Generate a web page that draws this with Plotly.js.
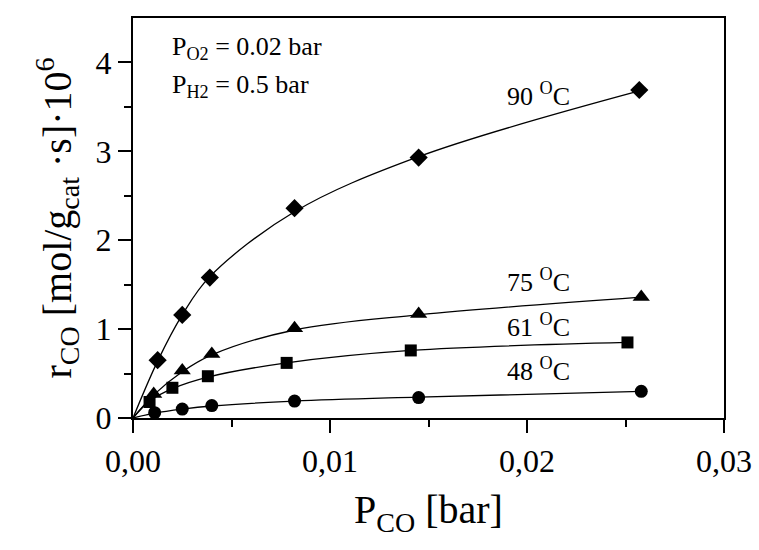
<!DOCTYPE html>
<html><head><meta charset="utf-8">
<script src="https://cdn.plot.ly/plotly-3.0.1.min.js"></script>
<style>html,body{margin:0;padding:0;background:#fff}#chart{width:759px;height:550px}</style>
</head><body><div id="chart"></div>
<script>
// measured points (P_CO in bar, rate ×10^6)
const x90 = [0.00125, 0.0025, 0.0039, 0.0082, 0.0145, 0.0257];
const y90 = [0.65, 1.16, 1.58, 2.36, 2.93, 3.69];
const x75 = [0.00105, 0.0025, 0.0040, 0.0082, 0.0145, 0.0258];
const y75 = [0.27, 0.535, 0.72, 1.01, 1.17, 1.36];
const x61 = [0.00084, 0.0020, 0.0038, 0.0078, 0.0141, 0.0251];
const y61 = [0.18, 0.34, 0.47, 0.62, 0.76, 0.85];
const x48 = [0.0011, 0.0025, 0.0040, 0.0082, 0.0145, 0.0258];
const y48 = [0.06, 0.10, 0.14, 0.19, 0.23, 0.30];
// fitted curves (start at origin)
const fx90 = [0, 0.00125, 0.0025, 0.0039, 0.0082, 0.0145, 0.0257];
const fy90 = [0, 0.64, 1.16, 1.59, 2.32, 2.94, 3.68];
const fx75 = [0, 0.00105, 0.0025, 0.0040, 0.0082, 0.0145, 0.0258];
const fy75 = [0, 0.26, 0.52, 0.71, 0.99, 1.16, 1.36];
const fx61 = [0, 0.00084, 0.0020, 0.0038, 0.0078, 0.0141, 0.0251];
const fy61 = [0, 0.19, 0.33, 0.46, 0.62, 0.76, 0.85];
const fx48 = [0, 0.0011, 0.0025, 0.0040, 0.0082, 0.0145, 0.0258];
const fy48 = [0, 0.055, 0.10, 0.135, 0.19, 0.235, 0.30];
const xTicks = [0, 0.01, 0.02, 0.03];
const xTickText = ['0,00', '0,01', '0,02', '0,03'];
const yTicks = [0, 1, 2, 3, 4];
const labels = ['90 <sup>O</sup>C', '75 <sup>O</sup>C', '61 <sup>O</sup>C', '48 <sup>O</sup>C'];
const labelY = [3.64, 1.55, 1.04, 0.55];
const labelX = 0.0206;

const F = 'Liberation Serif, Times New Roman, serif';
const lineT = (x, y) => ({x, y, mode: 'lines', line: {color: '#000', width: 1.3, shape: 'spline'}, hoverinfo: 'skip', showlegend: false});
const markT = (x, y, sym, size) => ({x, y, mode: 'markers', marker: {symbol: sym, size, color: '#000'}, showlegend: false});

const data = [
  lineT(fx90, fy90), lineT(fx75, fy75), lineT(fx61, fy61), lineT(fx48, fy48),
  markT(x90, y90, 'diamond', 14), markT(x75, y75, 'triangle-up', 15),
  markT(x61, y61, 'square', 12), markT(x48, y48, 'circle', 13)
];

const ann = labels.map((t, i) => ({x: labelX, y: labelY[i], xref: 'x', yref: 'y', text: t, showarrow: false,
  xanchor: 'center', yanchor: 'middle', font: {family: F, size: 26, color: '#000'}}));
ann.push({x: 0.0626, y: 0.925, xref: 'paper', yref: 'paper', text: 'P<sub>O2</sub> = 0.02 bar', showarrow: false,
  xanchor: 'left', yanchor: 'middle', font: {family: F, size: 26, color: '#000'}});
ann.push({x: 0.0626, y: 0.83, xref: 'paper', yref: 'paper', text: 'P<sub>H2</sub> = 0.5 bar', showarrow: false,
  xanchor: 'left', yanchor: 'middle', font: {family: F, size: 26, color: '#000'}});

const layout = {
  width: 759, height: 550,
  margin: {l: 133, r: 35, t: 18, b: 132},
  paper_bgcolor: '#fff', plot_bgcolor: '#fff',
  font: {family: F, color: '#000'},
  xaxis: {
    range: [0, 0.03], tickvals: xTicks, ticktext: xTickText,
    ticks: 'outside', ticklen: 13, tickwidth: 2, tickcolor: '#000',
    minor: {tickvals: [0.005, 0.015, 0.025], ticks: 'outside', ticklen: 7, tickwidth: 2, tickcolor: '#000'},
    showline: true, linewidth: 2.2, linecolor: '#000', mirror: true,
    showgrid: false, zeroline: false,
    tickfont: {family: F, size: 32, color: '#000'},
    title: {text: 'P<sub>CO</sub> [bar]', font: {family: F, size: 40, color: '#000'}, standoff: 18}
  },
  yaxis: {
    range: [0, 4.5], tickvals: yTicks, ticktext: yTicks.map(String),
    ticks: 'outside', ticklen: 13, tickwidth: 2, tickcolor: '#000',
    minor: {tickvals: [0.5, 1.5, 2.5, 3.5], ticks: 'outside', ticklen: 7, tickwidth: 2, tickcolor: '#000'},
    showline: true, linewidth: 2.2, linecolor: '#000', mirror: true,
    showgrid: false, zeroline: false,
    tickfont: {family: F, size: 32, color: '#000'},
    title: {text: 'r<sub>CO</sub> [mol/g<sub>cat</sub> ·s]·10<sup>6</sup>', font: {family: F, size: 40, color: '#000'}, standoff: 12}
  },
  annotations: ann
};
Plotly.newPlot('chart', data, layout, {staticPlot: true, displayModeBar: false});
</script></body></html>
